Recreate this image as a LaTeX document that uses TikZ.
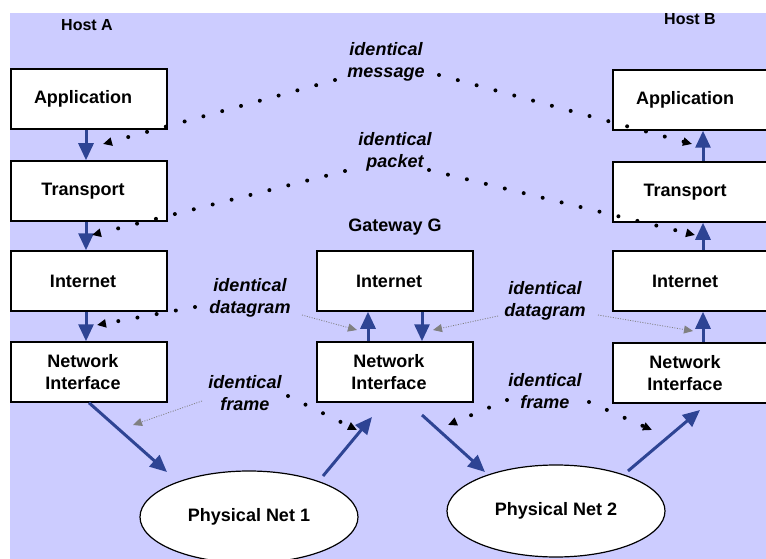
\documentclass[tikz,border=0pt]{standalone}
\usepackage{fontspec}
\setmainfont{Liberation Sans}
\usetikzlibrary{arrows.meta,shapes.geometric}
\definecolor{bgblue}{RGB}{204,204,255}
\definecolor{linkblue}{RGB}{46,68,148}

\begin{document}
\begin{tikzpicture}[x=1pt,y=-1pt,
    font=\fontsize{18}{22}\selectfont\bfseries,
    layer/.style={draw,line width=1.5pt,fill=white,minimum width=156pt,minimum height=60pt,align=center},
    physnet/.style={draw,ellipse,line width=1.2pt,fill=white,minimum width=218pt,minimum height=92pt},
    hostname/.style={font=\fontsize{16}{19}\selectfont\bfseries},
    same/.style={align=center,font=\fontsize{18}{22}\selectfont\bfseries\itshape},
    link/.style={draw=linkblue,line width=3pt,-{Triangle[length=17pt,width=15pt]}},
    peer/.style={line width=4pt,line cap=round,dash pattern=on 0pt off 19.5pt,-{Triangle[length=9pt,width=8pt]}},
    hint/.style={draw=gray,line width=0.8pt,dash pattern=on 1pt off 1.5pt,-{Triangle[length=9pt,width=8pt]}}]

  \useasboundingbox (0,0) rectangle (766,559);
  \fill[bgblue] (10,13) rectangle (766,559);

  \def \Layers {
    A-app/89/99/Application,
    A-tra/89/191/Transport,
    A-int/89/281/Internet,
    A-ni/89/372/{Network\\Interface},
    G-int/395/281/Internet,
    G-ni/395/372/{Network\\Interface},
    B-app/691/100/Application,
    B-tra/691/192/Transport,
    B-int/691/281/Internet,
    B-ni/691/373/{Network\\Interface}}

  \foreach \id / \x / \y / \txt in \Layers {
    \node[layer] (\id) at (\x, \y) {};
    \node[align=center] (\id-txt) at ([xshift=-6pt]\id.center) {\txt};
  }

  \node[physnet] (net1) at (249,517) {Physical Net 1};
  \node[physnet] (net2) at (556,511) {Physical Net 2};

  \node[hostname] (hostA) at (87,25) {Host A};
  \node[hostname] (hostB) at (690,19) {Host B};
  \node (gwname) at (395,227) {Gateway G};

  % peer labels
  \node[same] (msg) at (386,62) {identical\\message};
  \node[same] (pkt) at (395,152) {identical\\packet};
  \node[same] (dgA) at (250,298) {identical\\datagram};
  \node[same] (dgB) at (545,301) {identical\\datagram};
  \node[same] (frA) at (245,393) {identical\\frame};
  \node[same] (frB) at (545,391) {identical\\frame};

  % ends of the free connectors
  \foreach \name / \x / \y in {
      n1in/167/472, n1out/323/476, g1in/372/417, g2out/422/415,
      n2in/485/472, n2out/628/471, b1in/700/410,
      m1s/335/80, m1e/103/144, m2s/439/75, m2e/692/144,
      p1s/345/171, p1e/92/235, p2s/429/170, p2e/695/235,
      d1s/195/307, d1e/97/325, d2s/302/315, d2e/357/330,
      d3s/498/316, d3e/433/330, d4s/598/315, d4e/693/331,
      f1s/202/401, f1e/133/425, f2s/288/396, f2e/357/430,
      f3s/507/400, f3e/448/425, f4s/589/402, f4e/652/430} {
    \coordinate (\name) at (\x, \y);
  }

  % stacks
  \foreach \a / \b in {A-app/A-tra, A-tra/A-int, A-int/A-ni} {
    \draw[link] ([xshift=-3pt]\a.south) -- ([xshift=-3pt]\b.north);
  }
  \foreach \a / \b in {B-ni/B-int, B-int/B-tra, B-tra/B-app} {
    \draw[link] ([xshift=12pt]\a.north) -- ([xshift=12pt]\b.south);
  }
  \draw[link] ([xshift=-27pt]G-ni.north) -- ([xshift=-27pt]G-int.south);
  \draw[link] ([xshift=27pt]G-int.south) -- ([xshift=27pt]G-ni.north);

  % physical nets
  \draw[link] (A-ni.south) -- (n1in);
  \draw[link] (n1out) -- (g1in);
  \draw[link] (g2out) -- (n2in);
  \draw[link] (n2out) -- (b1in);

  % peer to peer
  \foreach \s / \e in {m1s/m1e, m2s/m2e, p1s/p1e, p2s/p2e, d1s/d1e, f2s/f2e, f3s/f3e, f4s/f4e} {
    \draw[peer] (\s) -- (\e);
  }
  \foreach \s / \e in {d2s/d2e, d3s/d3e, d4s/d4e, f1s/f1e} {
    \draw[hint] (\s) -- (\e);
  }
\end{tikzpicture}
\end{document}
